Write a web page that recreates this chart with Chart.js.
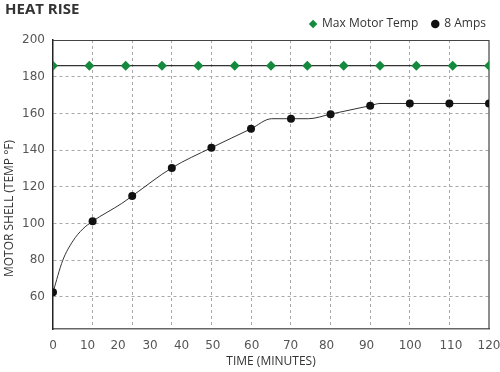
<!DOCTYPE html>
<html>
<head>
<meta charset="utf-8">
<script src="https://cdn.jsdelivr.net/npm/chart.js@4"></script>
<style>
  html, body { margin: 0; padding: 0; background: #fff; }
  #wrap { width: 500px; height: 372px; }
</style>
</head>
<body>
<div id="wrap"><canvas id="chart"></canvas></div>
<script>
// 8 Amps readings (markers sit on the vertical grid lines)
const sampleTimes = [0, 10.9, 21.8, 32.7, 43.6, 54.5, 65.5, 76.4, 87.3, 98.2, 109.1, 120];
const amps8 = [62.5, 101.2, 115, 130.3, 141.3, 151.6, 157.1, 159.6, 164.2, 165.4, 165.4, 165.4];

// the drawn line through those markers, with the extra bends seen in the picture
const curveTimes = [0, 2.7, 5.5, 8.2, 10.9, 18.9, 21.8, 32.7, 43.6, 54.5, 60.2, 65.5, 70.3, 76.4, 87.3, 90, 98.2, 109.1, 120];
const curveTemps = [62.5, 80, 90.5, 97, 101.2, 110.9, 115, 130.3, 141.3, 151.6, 157.1, 157.1, 157.1, 159.6, 164.2, 165.4, 165.4, 165.4, 165.4];

// max motor temp
const maxTimes = [0, 10, 20, 30, 40, 50, 60, 70, 80, 90, 100, 110, 120];
const maxTemp = [186, 186, 186, 186, 186, 186, 186, 186, 186, 186, 186, 186, 186];

// x tick labels and where they sit on the time axis
const tickLabels = ['0', '10', '20', '30', '40', '50', '60', '70', '80', '90', '100', '110', '120'];
const tickPlaces = [0, 9.5, 17.9, 26.7, 35.4, 44, 54.7, 65.4, 75.3, 86.3, 98.3, 109.5, 120];
const yTicks = [60, 80, 100, 120, 140, 160, 180, 200];

const yTitle = 'MOTOR SHELL (TEMP °F)';

const gridGray = '#a8a8a8';
const tickFont = { family: 'DejaVu Sans', size: 12 };
const labelFont = { family: 'Open Sans', size: 12 };

const pts = (xs, ys) => xs.map((x, i) => ({ x: x, y: ys[i] }));

// closed frame round the plot, and the y title sitting a bit below the middle
const extrasPlugin = {
  id: 'extras',
  beforeDatasetsDraw(chart) {
    const { ctx, chartArea: a } = chart;
    ctx.save();
    ctx.strokeStyle = '#444';
    ctx.lineWidth = 1.2;
    ctx.beginPath();
    ctx.moveTo(a.left, Math.round(a.top) + 0.5);
    ctx.lineTo(a.right, Math.round(a.top) + 0.5);
    ctx.lineTo(a.right, a.bottom);
    ctx.stroke();
    ctx.restore();
  },
  afterDraw(chart) {
    const { ctx, chartArea } = chart;
    ctx.save();
    ctx.translate(10, (chartArea.top + chartArea.bottom) / 2 + 24);
    ctx.rotate(-Math.PI / 2);
    ctx.font = '12px "Open Sans"';
    ctx.fillStyle = '#333';
    ctx.textAlign = 'center';
    ctx.textBaseline = 'middle';
    ctx.fillText(yTitle, 0, 0);
    ctx.restore();
  }
};

new Chart(document.getElementById('chart'), {
  type: 'line',
  data: {
    datasets: [
      {
        label: 'Max Motor Temp',
        data: pts(maxTimes, maxTemp),
        borderColor: '#333',
        borderWidth: 1.2,
        pointStyle: 'rectRot',
        pointRadius: 5,
        pointBackgroundColor: '#15893d',
        pointBorderColor: '#15893d',
        pointBorderWidth: 0,
        backgroundColor: '#15893d'
      },
      {
        label: '8 Amps',
        data: pts(sampleTimes, amps8),
        showLine: false,
        pointStyle: 'circle',
        pointRadius: 4,
        pointBackgroundColor: '#111',
        pointBorderColor: '#111',
        pointBorderWidth: 0,
        backgroundColor: '#111',
        borderColor: '#111'
      },
      {
        label: 'curve',
        data: pts(curveTimes, curveTemps),
        borderColor: '#333',
        borderWidth: 1,
        pointRadius: 0,
        cubicInterpolationMode: 'monotone'
      }
    ]
  },
  plugins: [extrasPlugin],
  options: {
    responsive: true,
    maintainAspectRatio: false,
    animation: false,
    events: [],
    layout: { padding: { left: 5, right: 0, top: 0, bottom: 0 } },
    plugins: {
      title: {
        display: true,
        text: 'HEAT RISE',
        align: 'start',
        color: '#333',
        font: { family: 'Open Sans', size: 15, weight: 'bold', lineHeight: 1 },
        padding: { top: 2, bottom: -13 }
      },
      legend: {
        align: 'end',
        labels: {
          usePointStyle: true,
          boxWidth: 6,
          boxHeight: 6,
          padding: 14,
          color: '#333',
          font: labelFont,
          filter: item => item.text !== 'curve'
        }
      },
      tooltip: { enabled: false }
    },
    scales: {
      x: {
        type: 'linear',
        position: 'bottom',
        min: 0,
        max: 120,
        afterBuildTicks: s => { s.ticks = sampleTimes.map(v => ({ value: v })); },
        ticks: { display: false },
        grid: {
          drawTicks: false,
          color: c => (c.tick && (c.tick.value === 0 || c.tick.value === 120)) ? 'rgba(0,0,0,0)' : gridGray
        },
        border: { display: true, color: '#666', width: 1.5, dash: [3, 3] }
      },
      xl: {
        type: 'linear',
        position: 'bottom',
        min: 0,
        max: 120,
        afterBuildTicks: s => { s.ticks = tickPlaces.map(v => ({ value: v })); },
        afterFit: s => { s.height = 43; s.paddingLeft = 0; s.paddingRight = 0; },
        ticks: {
          autoSkip: false,
          maxRotation: 0,
          padding: 10,
          color: '#555',
          font: tickFont,
          callback: (v, i) => tickLabels[i]
        },
        grid: { display: false, drawTicks: false },
        border: { display: false },
        title: {
          display: true,
          text: 'TIME (MINUTES)',
          color: '#333',
          font: labelFont,
          padding: { top: 2, bottom: 3 }
        }
      },
      y: {
        type: 'linear',
        min: 42.5,
        max: 200,
        afterBuildTicks: s => { s.ticks = yTicks.map(v => ({ value: v })); },
        afterFit: s => { s.width = 48; s.paddingTop = 0; s.paddingBottom = 0; },
        ticks: { padding: 8, color: '#555', font: tickFont },
        grid: {
          drawTicks: false,
          color: c => (c.tick && c.tick.value === 200) ? 'rgba(0,0,0,0)' : gridGray
        },
        border: { display: true, color: '#222', width: 1.5, dash: [3, 3] }
      },
      yr: {
        type: 'linear',
        position: 'right',
        afterFit: s => { s.width = 11; },
        ticks: { display: false },
        grid: { display: false, drawTicks: false },
        border: { display: false }
      }
    }
  }
});
</script>
</body>
</html>
